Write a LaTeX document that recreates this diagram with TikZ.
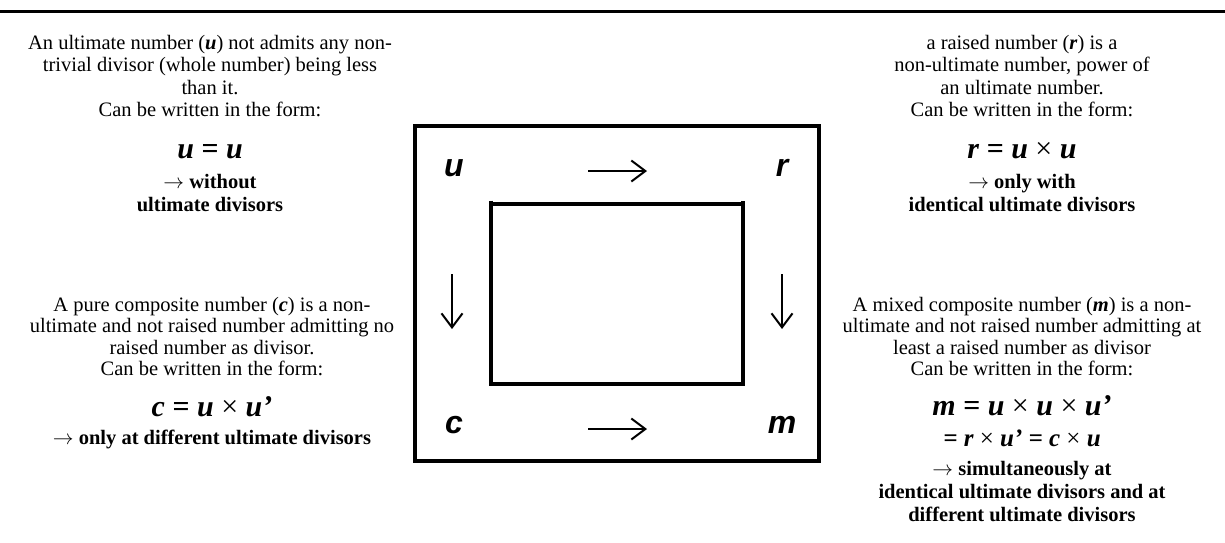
\documentclass[tikz,border=0pt]{standalone}
\usepackage{fontspec}
\setmainfont{Liberation Serif}
\newfontfamily\arialfont{Liberation Sans}
\usetikzlibrary{arrows.meta}
\newcommand{\bi}[1]{\textbf{\textit{#1}}}
\newcommand{\tms}{{\normalfont\mdseries\upshape ×}}
\tikzset{
 body/.style={anchor=base, inner sep=0pt, font=\fontsize{20.5}{22.5}\selectfont},
 bodyb/.style={anchor=base, inner sep=0pt, font=\fontsize{20.5}{22.5}\selectfont\bfseries},
 formula/.style={anchor=base, inner sep=0pt, font=\fontsize{30}{32}\selectfont\bfseries\itshape},
 formulasm/.style={anchor=base, inner sep=0pt, font=\fontsize{25}{27}\selectfont\bfseries\itshape},
 lab/.style={inner sep=0pt, font=\arialfont\fontsize{32}{34}\selectfont\bfseries\itshape},
 frame/.style={line width=4pt},
 arr/.style={line width=2pt, -{Straight Barb[length=14pt,width=21pt]}},
}
\begin{document}
\begin{tikzpicture}[x=1pt,y=-1pt]
\useasboundingbox (0,0) rectangle (1225,542);
% top rule
\coordinate (ruleL) at (0,11.5);
\coordinate (ruleR) at (1225,11.5);
\draw[line width=3.5pt] (ruleL) -- (ruleR);
% frames
\draw[frame] (415,126) rectangle (819,461);
\draw[frame] (491,200.5) -- (491,384) -- (743,384) -- (743,200.5);
\draw[frame] (491,204) -- (743,204);
% labels
\node[lab] (u) at (454,168) {u};
\node[lab] (r) at (782,168) {r};
\node[lab] (c) at (454,425) {c};
\node[lab] (m) at (782,425) {m};
% arrows
\coordinate (a1) at (588,171); \coordinate (a2) at (647,171);
\coordinate (b1) at (588,429); \coordinate (b2) at (647,429);
\coordinate (l1) at (452,274); \coordinate (l2) at (452,329);
\coordinate (r1) at (782,274); \coordinate (r2) at (782,329);
\draw[arr] (a1) -- (a2);
\draw[arr] (b1) -- (b2);
\draw[arr] (l1) -- (l2);
\draw[arr] (r1) -- (r2);
% top left text
\node[body] (tl1) at (210,49) {An ultimate number (\bi{u}) not admits any non-};
\node[body] (tl2) at (210,71.5) {trivial divisor (whole number) being less};
\node[body] (tl3) at (210,94) {than it.};
\node[body] (tl4) at (210,116.5) {Can be written in the form:};
\node[formula] (tlf) at (210,158) {u = u};
\node[bodyb] (tla) at (210,188) {$\rightarrow$ without};
\node[bodyb] (tlb) at (210,211) {ultimate divisors};
% top right text
\node[body] (tr1) at (1022,49) {a raised number (\bi{r}) is a};
\node[body] (tr2) at (1022,71.5) {non-ultimate number, power of};
\node[body] (tr3) at (1022,94) {an ultimate number.};
\node[body] (tr4) at (1022,116.5) {Can be written in the form:};
\node[formula] (trf) at (1022,158) {r = u \tms{} u};
\node[bodyb] (tra) at (1022,188) {$\rightarrow$ only with};
\node[bodyb] (trb) at (1022,211) {identical ultimate divisors};
% bottom left text
\node[body] (bl1) at (212,311) {A pure composite number (\bi{c}) is a non-};
\node[body] (bl2) at (212,332.5) {ultimate and not raised number admitting no};
\node[body] (bl3) at (212,354) {raised number as divisor.};
\node[body] (bl4) at (212,375.5) {Can be written in the form:};
\node[formula] (blf) at (212,416) {c = u \tms{} u’};
\node[bodyb] (bla) at (212,444) {$\rightarrow$ only at different ultimate divisors};
% bottom right text
\node[body] (br1) at (1022,311) {A mixed composite number (\bi{m}) is a non-};
\node[body] (br2) at (1022,332.5) {ultimate and not raised number admitting at};
\node[body] (br3) at (1022,354) {least a raised number as divisor};
\node[body] (br4) at (1022,375.5) {Can be written in the form:};
\node[formula] (brf) at (1022,415) {m = u \tms{} u \tms{} u’};
\node[formulasm] (brg) at (1022,446) {= r \tms{} u’ = c \tms{} u};
\node[bodyb] (bra) at (1022,475) {$\rightarrow$ simultaneously at};
\node[bodyb] (brb) at (1022,498) {identical ultimate divisors and at};
\node[bodyb] (brc) at (1022,521) {different ultimate divisors};
\end{tikzpicture}
\end{document}
